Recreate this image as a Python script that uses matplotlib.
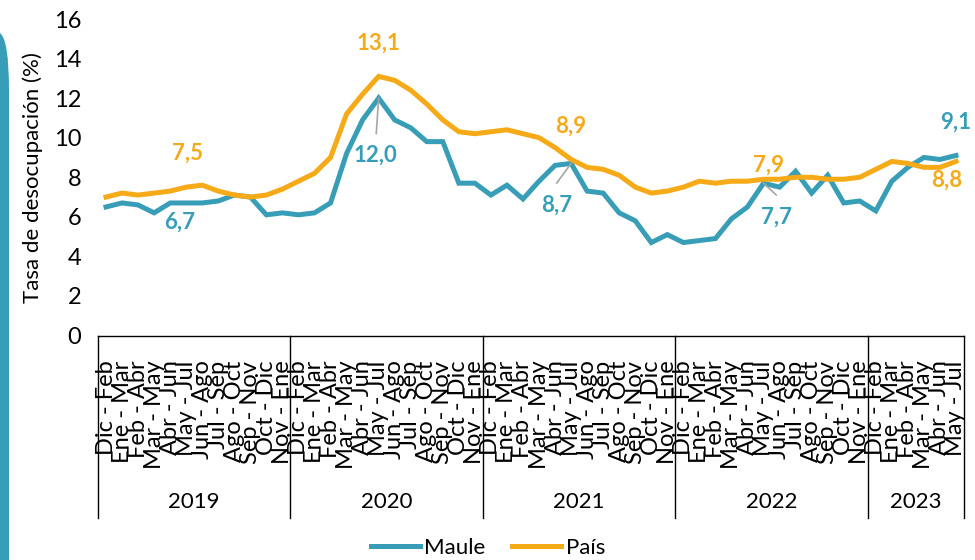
import matplotlib
matplotlib.use("Agg")
import matplotlib.pyplot as plt
from matplotlib.path import Path
from matplotlib.patches import PathPatch

plt.rcParams['font.family'] = ['Lato', 'DejaVu Sans']

years = ["2019", "2020", "2021", "2022", "2023"]
periods = ["Dic - Feb", "Ene - Mar", "Feb - Abr", "Mar - May", "Abr - Jun", "May - Jul",
           "Jun - Ago", "Jul - Sep", "Ago - Oct", "Sep - Nov", "Oct - Dic", "Nov - Ene"]
periods_per_year = [12, 12, 12, 12, 6]

maule = [6.5, 6.7, 6.6, 6.2, 6.7, 6.7, 6.7, 6.8, 7.1, 7.0, 6.1, 6.2,
         6.1, 6.2, 6.7, 9.2, 10.9, 12.0, 10.9, 10.5, 9.8, 9.8, 7.7, 7.7,
         7.1, 7.6, 6.9, 7.8, 8.6, 8.7, 7.3, 7.2, 6.2, 5.8, 4.7, 5.1,
         4.7, 4.8, 4.9, 5.9, 6.5, 7.7, 7.5, 8.3, 7.2, 8.1, 6.7, 6.8,
         6.3, 7.8, 8.5, 9.0, 8.9, 9.1]
pais = [7.0, 7.2, 7.1, 7.2, 7.3, 7.5, 7.6, 7.3, 7.1, 7.0, 7.1, 7.4,
        7.8, 8.2, 9.0, 11.2, 12.2, 13.1, 12.9, 12.4, 11.7, 10.9, 10.3, 10.2,
        10.3, 10.4, 10.2, 10.0, 9.5, 8.9, 8.5, 8.4, 8.1, 7.5, 7.2, 7.3,
        7.5, 7.8, 7.7, 7.8, 7.8, 7.9, 7.9, 8.0, 8.0, 7.9, 7.9, 8.0,
        8.4, 8.8, 8.7, 8.5, 8.5, 8.8]

tick_labels = []
for n in periods_per_year:
    tick_labels += periods[:n]

C_MAULE = '#389EB7'
C_PAIS = '#F6AA17'

W, H = 975, 560
fig = plt.figure(figsize=(W / 100, H / 100), dpi=100)
ax = fig.add_axes([98 / W, 1 - 335.5 / H, (964 - 98) / W, (335.5 - 19) / H])

x = list(range(len(maule)))
ax.plot(x, maule, color=C_MAULE, lw=3.6, label='Maule', solid_joinstyle='miter')
ax.plot(x, pais, color=C_PAIS, lw=3.6, label='País', solid_joinstyle='miter')

ax.set_xlim(-0.5, len(maule) - 0.5)
ax.set_ylim(0, 16)
ax.set_yticks(range(0, 17, 2))
ax.tick_params(axis='y', length=0, labelsize=17, pad=12)
ax.set_xticks(x)
ax.set_xticklabels(tick_labels, rotation=90, fontsize=17, va='top', ha='center')
ax.tick_params(axis='x', length=0, pad=18)
for s in ['top', 'right', 'left']:
    ax.spines[s].set_visible(False)
ax.spines['bottom'].set_color('black')
ax.spines['bottom'].set_linewidth(1.0)

ax.set_ylabel('Tasa de desocupación (%)', fontsize=16, labelpad=8)

# group separators and year labels
trans = ax.get_xaxis_transform()
bottom_frac = -(518 - 335.5) / (335.5 - 19)
year_frac = -(502 - 335.5) / (335.5 - 19)
bounds = [-0.5]
for n in periods_per_year:
    bounds.append(bounds[-1] + n)
for b in bounds:
    ax.plot([b, b], [0, bottom_frac], transform=trans, color='black', lw=1.0, clip_on=False)
for yr, a, b in zip(years, bounds[:-1], bounds[1:]):
    ax.text((a + b) / 2, year_frac, yr, transform=trans, ha='center', va='center', fontsize=16)

# data labels
lead = dict(arrowstyle='-', color='#A6A6A6', lw=1.2, shrinkA=0, shrinkB=0)
def lab(i, series, text, tx, ty, color, leader=False, la=None):
    if leader:
        ax.annotate('', xy=(i, series[i]), xytext=la, arrowprops=lead)
    ax.text(tx, ty, text, color=color, fontsize=16, fontweight='bold', ha='center', va='center')

lab(5, maule, '6,7', 4.6, 5.75, C_MAULE)
lab(5, pais, '7,5', 5.05, 9.2, C_PAIS)
lab(17, maule, '12,0', 16.8, 9.1, C_MAULE, True, (16.85, 10.2))
lab(17, pais, '13,1', 17.0, 14.8, C_PAIS)
lab(29, pais, '8,9', 29.0, 10.6, C_PAIS)
lab(29, maule, '8,7', 28.1, 6.6, C_MAULE, True, (28.1, 7.7))
lab(41, pais, '7,9', 41.3, 8.6, C_PAIS)
lab(41, maule, '7,7', 41.8, 6.0, C_MAULE, True, (41.8, 7.1))
lab(53, maule, '9,1', 53.0, 10.8, C_MAULE)
lab(53, pais, '8,8', 52.4, 7.85, C_PAIS)

fig.legend(loc='center', bbox_to_anchor=(488 / W, 1 - 548 / H), ncol=2, frameon=False,
           fontsize=16, handlelength=2.2, handletextpad=0.2, columnspacing=1.2)

# left decorative bar
def fp(px, py):
    return (px / W, 1 - py / H)
verts = [fp(-5, 33), fp(0, 33), fp(9, 40), fp(9, 90), fp(9, 565), fp(-5, 565), fp(-5, 33)]
codes = [Path.MOVETO, Path.LINETO, Path.CURVE3, Path.CURVE3, Path.LINETO, Path.LINETO, Path.CLOSEPOLY]
fig.patches.append(PathPatch(Path(verts, codes), transform=fig.transFigure,
                             facecolor=C_MAULE, edgecolor='none'))

fig.savefig('out.png', dpi=100)
